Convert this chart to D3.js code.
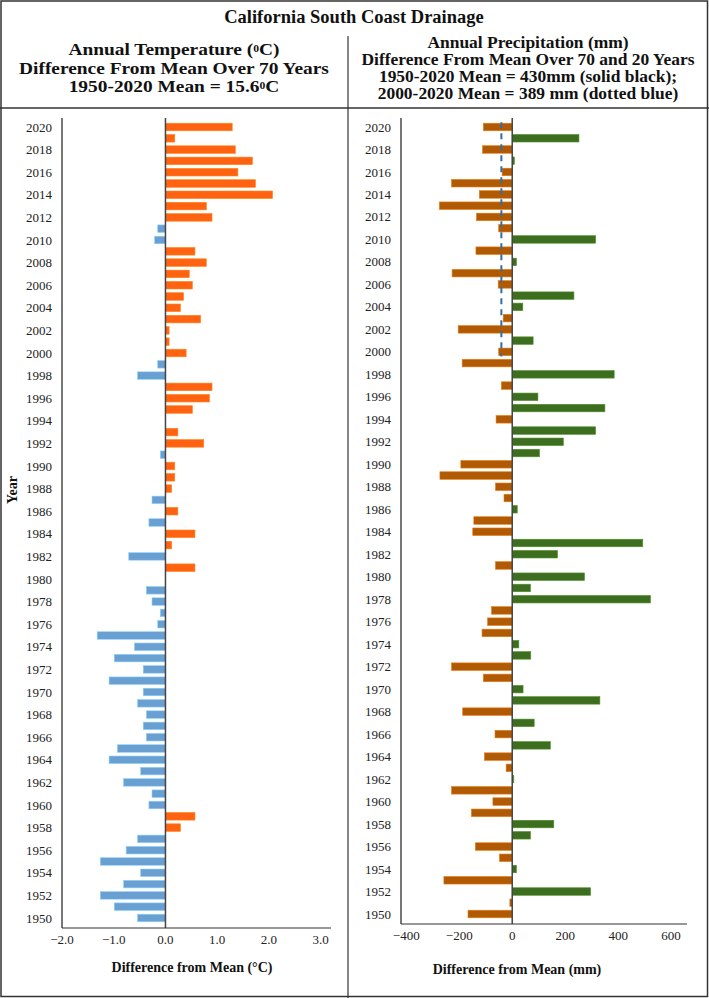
<!DOCTYPE html>
<html lang="en">
<head>
    <meta charset="utf-8">
    <title>California South Coast Drainage</title>
    <script src="https://d3js.org/d3.v7.min.js"></script>
    <style>
        body { margin: 0; background: #fff; }
        text { font-family: "Liberation Serif", "Times New Roman", serif; fill: #111; }
        .tick-label { font-size: 13px; fill: #222; }
        .head { font-weight: bold; }
    </style>
</head>
<body>
<div id="chart"></div>
<script>
    // years, top of the chart is 2020
    const years = d3.range(2020, 1949, -1);

    // temperature difference from 1950-2020 mean (deg C), 2020 -> 1950
    const tempDiff = [
        1.29, 0.18, 1.35, 1.68, 1.40, 1.74, 2.07, 0.79, 0.90, -0.15,
        -0.21, 0.57, 0.79, 0.46, 0.52, 0.35, 0.29, 0.68, 0.07, 0.07,
        0.40, -0.15, -0.54, 0.90, 0.85, 0.52, 0.00, 0.24, 0.74, -0.10,
        0.18, 0.18, 0.12, -0.26, 0.24, -0.32, 0.57, 0.12, -0.71, 0.57,
        0.00, -0.37, -0.26, -0.10, -0.15, -1.32, -0.60, -0.99, -0.43, -1.09,
        -0.43, -0.54, -0.37, -0.43, -0.37, -0.93, -1.09, -0.48, -0.81, -0.26,
        -0.32, 0.57, 0.29, -0.54, -0.76, -1.26, -0.48, -0.81, -1.26, -0.99,
        -0.54
    ];

    // precipitation difference from 1950-2020 mean (mm), 2020 -> 1950
    const precipDiff = [
        -109, 252, -112, 8, -38, -229, -124, -275, -135, -51,
        315, -137, 16, -227, -53, 233, 40, -34, -204, 79,
        -51, -189, 385, -41, 97, 350, -61, 315, 193, 103,
        -194, -273, -63, -31, 19, -145, -149, 493, 171, -63,
        273, 69, 522, -78, -93, -114, 25, 70, -229, -109,
        41, 331, -187, 83, -65, 144, -105, -23, 6, -229,
        -73, -154, 157, 69, -139, -48, 16, -258, 296, -9,
        -167
    ];

    // 2000-2020 mean relative to the 70-year mean (389 - 430)
    const recentMeanOffset = -41;
    const recentYears = [2020, 2000];

    const tempTicks = [-2, -1, 0, 1, 2, 3];
    const precipTicks = [-400, -200, 0, 200, 400, 600];
    const yearLabels = years.filter(y => y % 2 === 0);

    const W = 709, H = 998;
    const svg = d3.select("#chart").append("svg")
        .attr("width", W).attr("height", H);

    svg.append("rect").attr("width", W).attr("height", H).attr("fill", "#fff");

    // frame
    svg.append("rect")
        .attr("x", 1).attr("y", 1).attr("width", W - 2.5).attr("height", H - 2.5)
        .attr("fill", "none").attr("stroke", "#333").attr("stroke-width", 1.5);
    svg.append("line")
        .attr("x1", 0).attr("x2", W).attr("y1", 108).attr("y2", 108)
        .attr("stroke", "#333").attr("stroke-width", 1.5);
    svg.append("line")
        .attr("x1", 348).attr("x2", 348).attr("y1", 36).attr("y2", H)
        .attr("stroke", "#333").attr("stroke-width", 1.2);

    // headings (slightly widened so the lines fit their tight spacing)
    function headLine(x, y, size, stretch, parts) {
        const t = svg.append("text").attr("class", "head")
            .attr("x", x).attr("y", y).attr("dy", "0.35em")
            .attr("text-anchor", "middle").style("font-size", size + "px");
        parts.forEach(p => {
            if (p.sup) {
                t.append("tspan")
                    .attr("baseline-shift", "30%")
                    .style("font-size", (size * 0.6) + "px")
                    .text(p.sup);
            } else {
                t.append("tspan").text(p.t);
            }
        });
        if (stretch !== 1) {
            const len = t.node().getComputedTextLength();
            t.attr("textLength", len * stretch).attr("lengthAdjust", "spacingAndGlyphs");
        }
    }

    headLine(354, 17, 18.5, 1, [{t: "California South Coast Drainage"}]);

    headLine(174, 49.5, 17, 1.14, [{t: "Annual Temperature ("}, {sup: "0"}, {t: "C)"}]);
    headLine(174, 68, 17, 1.14, [{t: "Difference From Mean Over 70 Years"}]);
    headLine(174, 86.5, 17, 1.14, [{t: "1950-2020 Mean = 15.6"}, {sup: "0"}, {t: "C"}]);

    headLine(528, 42, 16, 1.09, [{t: "Annual Precipitation (mm)"}]);
    headLine(528, 59, 16, 1.09, [{t: "Difference From Mean Over 70 and 20 Years"}]);
    headLine(528, 76, 16, 1.09, [{t: "1950-2020 Mean = 430mm (solid black);"}]);
    headLine(528, 93, 16, 1.09, [{t: "2000-2020 Mean = 389 mm (dotted blue)"}]);

    function drawPanel(opts) {
        const x = d3.scaleLinear().domain(opts.domain).range([opts.left, opts.right]);
        const y = d3.scaleBand().domain(years)
            .range([opts.firstY - opts.step / 2, opts.lastY + opts.step / 2])
            .paddingInner(0.33).paddingOuter(0.165);

        const g = svg.append("g");

        g.selectAll("rect.bar")
            .data(years.map((yr, i) => ({ yr, v: opts.values[i] })))
            .join("rect")
            .attr("class", "bar")
            .attr("x", d => x(Math.min(0, d.v)))
            .attr("width", d => Math.abs(x(d.v) - x(0)))
            .attr("y", d => y(d.yr))
            .attr("height", y.bandwidth())
            .attr("fill", d => d.v >= 0 ? opts.pos : opts.neg)
            .attr("stroke", d => d3.color(d.v >= 0 ? opts.pos : opts.neg).brighter(0.8))
            .attr("stroke-width", 0.6);

        // zero line
        g.append("line")
            .attr("x1", x(0)).attr("x2", x(0))
            .attr("y1", opts.top).attr("y2", opts.axisY)
            .attr("stroke", "#444").attr("stroke-width", 1.5);

        // y axis line
        g.append("line")
            .attr("x1", opts.left).attr("x2", opts.left)
            .attr("y1", opts.top).attr("y2", opts.axisY)
            .attr("stroke", "#777").attr("stroke-width", 2);

        // x axis line
        g.append("line")
            .attr("x1", opts.left).attr("x2", opts.right)
            .attr("y1", opts.axisY).attr("y2", opts.axisY)
            .attr("stroke", "#333").attr("stroke-width", 1.2);

        // year labels
        g.selectAll("text.yr")
            .data(yearLabels)
            .join("text")
            .attr("class", "tick-label yr")
            .attr("x", opts.left - 10)
            .attr("y", d => y(d) + y.bandwidth() / 2)
            .attr("dy", "0.35em")
            .attr("text-anchor", "end")
            .text(d => d);

        // value tick labels
        g.selectAll("text.xt")
            .data(opts.ticks)
            .join("text")
            .attr("class", "tick-label xt")
            .attr("x", d => x(d))
            .attr("y", opts.axisY + 11)
            .attr("dy", "0.35em")
            .attr("text-anchor", "middle")
            .text(opts.fmt);

        g.append("text").attr("class", "head")
            .attr("x", opts.titleX).attr("y", opts.titleY)
            .attr("dy", "0.35em")
            .attr("text-anchor", "middle").style("font-size", "14px")
            .text(opts.title);

        return { x, y, g };
    }

    const left = drawPanel({
        values: tempDiff, domain: [-2, 3.2], left: 62, right: 331,
        firstY: 127, lastY: 918, step: 791 / 70, top: 118, axisY: 928,
        pos: "#ff6311", neg: "#6a9fd2", ticks: tempTicks, fmt: d3.format(".1f"),
        title: "Difference from Mean (\u00B0C)", titleX: 192, titleY: 967
    });

    const right = drawPanel({
        values: precipDiff, domain: [-420, 660], left: 401, right: 687,
        firstY: 127, lastY: 914, step: 787 / 70, top: 118, axisY: 924,
        pos: "#3d6e1f", neg: "#b05a06", ticks: precipTicks, fmt: d3.format("d"),
        title: "Difference from Mean (mm)", titleX: 517, titleY: 969
    });

    // dotted blue line: 2000-2020 mean
    right.g.append("line")
        .attr("x1", right.x(recentMeanOffset)).attr("x2", right.x(recentMeanOffset))
        .attr("y1", right.y(recentYears[0]) - 1)
        .attr("y2", right.y(recentYears[1]) + right.y.bandwidth() + 1)
        .attr("stroke", "#2f6ea8").attr("stroke-width", 2)
        .attr("stroke-dasharray", "6,5");

    // "Year" label
    svg.append("text").attr("class", "head")
        .attr("transform", "translate(12,490) rotate(-90)")
        .attr("dy", "0.35em")
        .attr("text-anchor", "middle").style("font-size", "14px")
        .text("Year");
</script>
</body>
</html>
